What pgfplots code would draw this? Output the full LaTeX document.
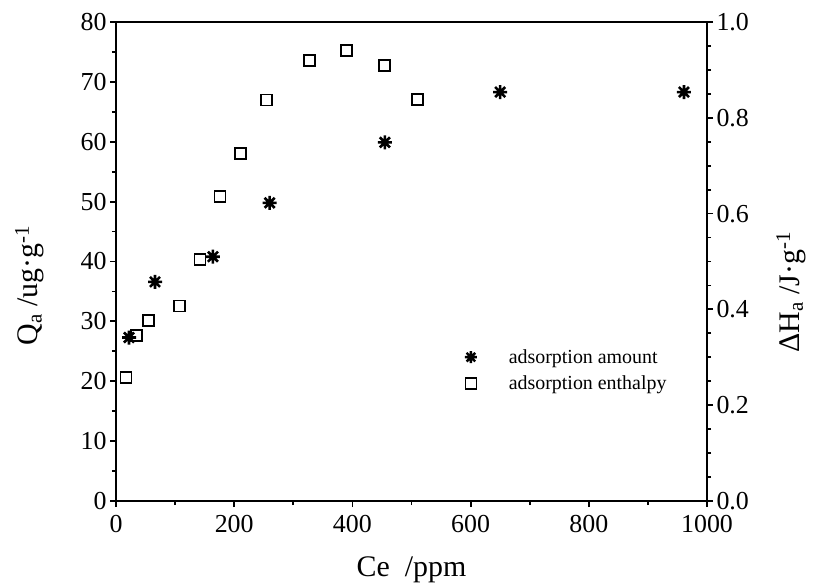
\documentclass[border=0pt]{standalone}
\usepackage{fontspec}
\setmainfont{Liberation Serif}
\usepackage{pgfplots}
\pgfplotsset{compat=1.18}

% eight-armed asterisk
\pgfdeclareplotmark{ast8}{%
  \pgfpathmoveto{\pgfqpoint{-\pgfplotmarksize}{0pt}}%
  \pgfpathlineto{\pgfqpoint{\pgfplotmarksize}{0pt}}%
  \pgfpathmoveto{\pgfqpoint{0pt}{-\pgfplotmarksize}}%
  \pgfpathlineto{\pgfqpoint{0pt}{\pgfplotmarksize}}%
  \pgfpathmoveto{\pgfqpoint{-0.72\pgfplotmarksize}{-0.72\pgfplotmarksize}}%
  \pgfpathlineto{\pgfqpoint{0.72\pgfplotmarksize}{0.72\pgfplotmarksize}}%
  \pgfpathmoveto{\pgfqpoint{-0.72\pgfplotmarksize}{0.72\pgfplotmarksize}}%
  \pgfpathlineto{\pgfqpoint{0.72\pgfplotmarksize}{-0.72\pgfplotmarksize}}%
  \pgfusepathqstroke}

\pgfplotsset{
  common/.style={
    scale only axis, width=591bp, height=479bp,
    xmin=0, xmax=1000,
    tick align=outside,
    major tick length=6bp, minor tick length=4bp,
    every tick/.style={black, line width=1.8bp},
    axis line style={line width=2.2bp},
    /pgf/number format/assume math mode=true,
    /pgf/number format/1000 sep={},
    ticklabel style={font=\fontsize{26}{26}\selectfont},
    label style={font=\fontsize{30}{30}\selectfont},
  },
  starmark/.style={only marks, mark=ast8, mark size=7bp, line width=2.6bp},
}

\begin{document}
\begin{tikzpicture}
\path[use as bounding box] (-116bp,-83bp) rectangle (706bp,501bp);

\begin{axis}[common,
  ymin=0, ymax=80,
  xtick={0,200,...,1000}, minor x tick num=1,
  ytick={0,10,...,80}, minor y tick num=1,
  tick pos=left,
  xticklabel style={yshift=-5bp},
  xlabel={Ce\ \ /ppm},
  ylabel={Q\textsubscript{a} /ug·g\textsuperscript{-1}},
  xlabel style={at={(axis description cs:0.5,-0.143)}, anchor=center},
  ylabel style={at={(axis description cs:-0.146,0.45)}, anchor=center},
]
% adsorption amount
\addplot[starmark] coordinates {
  (22,27.3) (66,36.6) (164,40.8) (260,49.8) (455,59.9) (650,68.3) (961,68.3)
};
\end{axis}

\begin{axis}[common,
  ymin=0, ymax=1,
  axis y line*=right, axis x line=none,
  ytick={0,0.2,...,1.0}, minor y tick num=3,
  /pgf/number format/.cd, fixed, fixed zerofill, precision=1, /pgfplots/.cd,
  ylabel={ΔH\textsubscript{a} /J·g\textsuperscript{-1}},
  ylabel style={at={(axis description cs:1.142,0.436)}, anchor=center},
  legend style={draw=none, fill=none, at={(axis description cs:0.585,0.325)}, anchor=north west,
    font=\fontsize{20}{20}\selectfont, row sep=7bp, cells={anchor=west}},
  legend cell align=left,
]
\addlegendimage{starmark, mark size=6bp, line width=2.4bp}
\addlegendentry{\ \ \ \ \ \ adsorption amount}
% adsorption enthalpy
\addplot[only marks, mark=square, mark size=5.5bp, line width=1.8bp] coordinates {
  (17,0.258) (35,0.346) (55,0.376) (108,0.407) (142,0.504) (176,0.635)
  (210,0.726) (255,0.837) (327,0.920) (390,0.941) (454,0.910) (510,0.838)
};
\addlegendentry{\ \ \ \ \ \ adsorption enthalpy}
\end{axis}
\end{tikzpicture}
\end{document}
